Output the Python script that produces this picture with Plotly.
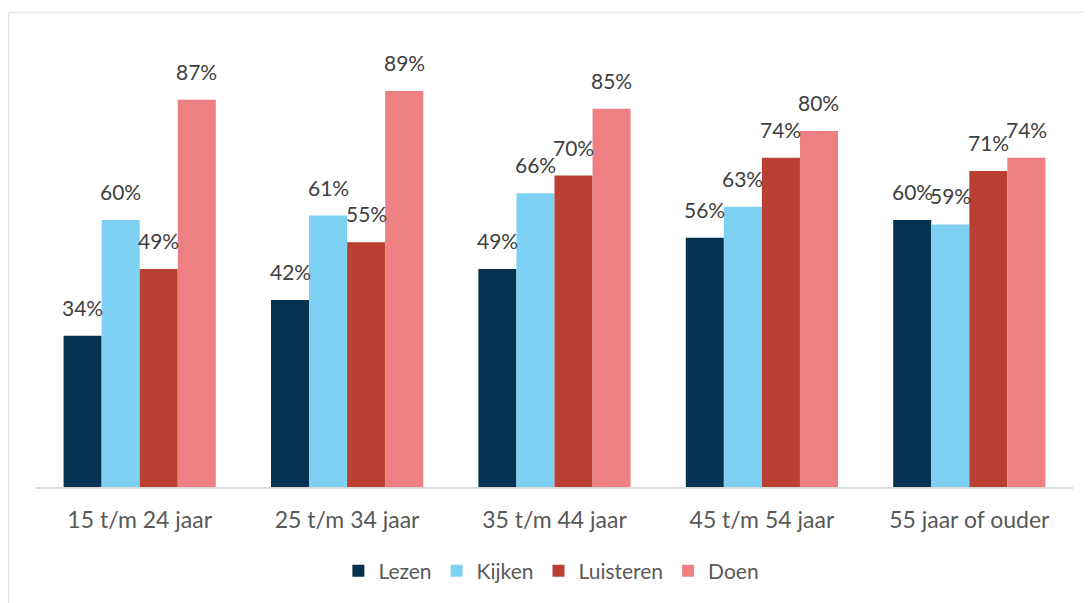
import plotly.graph_objects as go

categories = ["15 t/m 24 jaar", "25 t/m 34 jaar", "35 t/m 44 jaar", "45 t/m 54 jaar", "55 jaar of ouder"]
lezen = [34, 42, 49, 56, 60]
kijken = [60, 61, 66, 63, 59]
luisteren = [49, 55, 70, 74, 71]
doen = [87, 89, 85, 80, 74]

series = [("Lezen", lezen, "#05324F"), ("Kijken", kijken, "#7FD1F4"),
          ("Luisteren", luisteren, "#BA4034"), ("Doen", doen, "#EE7F83")]

FONT = "Lato, 'Open Sans', sans-serif"
BARGAP = 0.266
nser = len(series)
bw = (1 - BARGAP) / nser

fig = go.Figure()
annotations = []
for si, (name, vals, col) in enumerate(series):
    fig.add_trace(go.Bar(x=list(range(len(categories))), y=vals, name=name,
                         marker=dict(color=col, line=dict(width=0))))
    off = -(1 - BARGAP) / 2 + bw * (si + 0.5)
    for ci, v in enumerate(vals):
        annotations.append(dict(x=ci + off, y=v, xref="x", yref="y", text=f"{v}%",
                                showarrow=False, yanchor="bottom", yshift=14,
                                font=dict(family=FONT, size=21, color="#404040")))

fig.update_layout(
    width=1084, height=595,
    margin=dict(l=28, r=19, t=22, b=116),
    paper_bgcolor="white", plot_bgcolor="white",
    barmode="group", bargap=BARGAP, bargroupgap=0,
    font=dict(family=FONT, color="#595959"),
    annotations=annotations,
    showlegend=True,
    legend=dict(orientation="h", x=0.497, xanchor="center", y=-0.184, yanchor="middle",
                font=dict(family=FONT, size=21, color="#595959"),
                itemwidth=30, traceorder="normal"),
    shapes=[dict(type="rect", xref="paper", yref="paper",
                 x0=-0.0262, x1=1.0170, y0=-0.26, y1=1.039,
                 line=dict(color="#D9D9D9", width=1), layer="below")],
)
fig.update_xaxes(tickmode="array", tickvals=list(range(len(categories))), ticktext=categories,
                 range=[-0.5, len(categories) - 0.5],
                 showline=True, linecolor="#D9D9D9", linewidth=1.5, showgrid=False,
                 ticks="", ticklabelstandoff=12,
                 tickfont=dict(family=FONT, size=23, color="#595959"))
fig.update_yaxes(range=[0, 102.7], showgrid=False, showticklabels=False, zeroline=False,
                 showline=False, ticks="")

fig.write_html("out.html")
